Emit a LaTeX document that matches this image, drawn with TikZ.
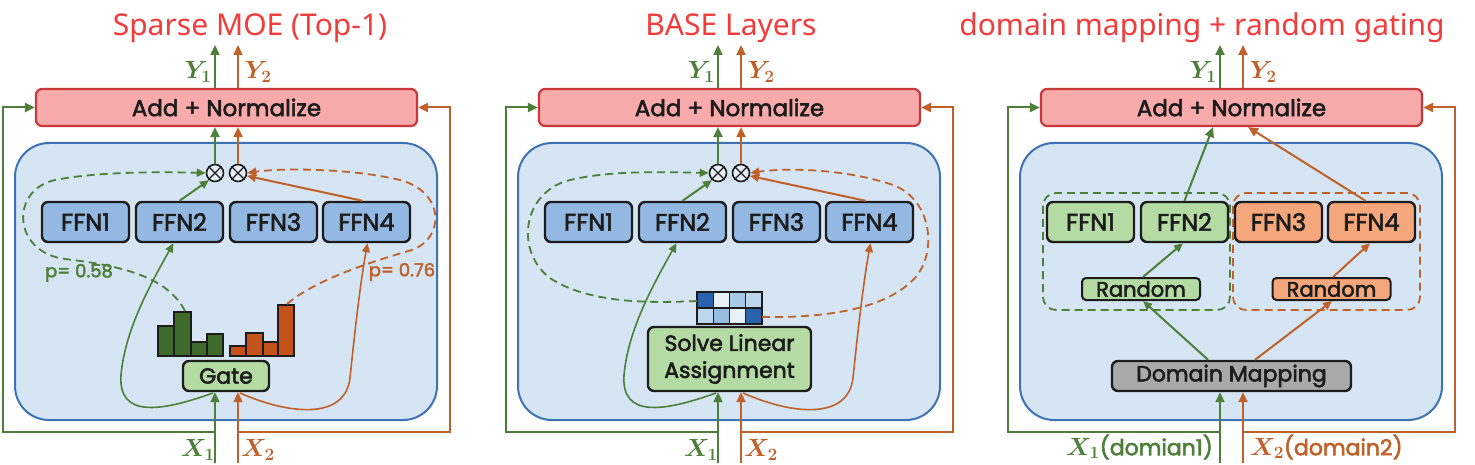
\documentclass[tikz,border=0pt]{standalone}
\usepackage{fontspec}
\newfontfamily\diagf{Poppins}[FakeBold=2.5]
\newfontfamily\titlef{Noto Sans}
\usetikzlibrary{arrows.meta,calc}
\definecolor{cgreen}{HTML}{4E7F3A}
\definecolor{corange}{HTML}{C0602A}
\definecolor{cbarg}{HTML}{3F6B2A}
\definecolor{cbaro}{HTML}{C4521A}
\definecolor{cpink}{HTML}{F9AAAA}
\definecolor{cred}{HTML}{C8383C}
\definecolor{cbg}{HTML}{D6E5F3}
\definecolor{cbgline}{HTML}{3D72B4}
\definecolor{cffn}{HTML}{93B9E2}
\definecolor{cgfill}{HTML}{B5DBA4}
\definecolor{cofill}{HTML}{F4A77A}
\definecolor{cgray}{HTML}{A9A9A9}
\definecolor{cdark}{HTML}{1C1C1C}
\definecolor{ctitle}{HTML}{F23B3B}
\definecolor{cgdk}{HTML}{2A62AE}
\definecolor{cgwh}{HTML}{E8F0F8}
\definecolor{cglt}{HTML}{A8C8E8}
\definecolor{cglt2}{HTML}{BCD6EE}
\definecolor{cgmd}{HTML}{96BCE2}
\tikzset{
  arr/.style={-{Triangle[length=10pt,width=9pt]}},
  sarr/.style={-{Triangle[length=9pt,width=8pt]}},
  gl/.style={draw=cgreen, line width=2pt},
  ol/.style={draw=corange, line width=2pt},
  gc/.style={draw=cgreen, line width=1.6pt},
  oc/.style={draw=corange, line width=1.6pt},
  gd/.style={draw=cgreen, line width=1.8pt, dash pattern=on 8pt off 5pt},
  od/.style={draw=corange, line width=1.8pt, dash pattern=on 8pt off 5pt},
  box/.style={draw=cdark, line width=2.4pt, rounded corners=6pt, inner sep=0pt,
    font=\diagf\fontsize{24}{28}\selectfont, text=cdark},
  ffnb/.style={box, fill=cffn, minimum width=87pt, minimum height=40pt},
  ffng/.style={box, fill=cgfill, minimum width=87pt, minimum height=40pt},
  ffno/.style={box, fill=cofill, minimum width=87pt, minimum height=40pt},
  addbox/.style={draw=cred, line width=2.2pt, fill=cpink, rounded corners=6pt,
    minimum width=381pt, minimum height=37pt, inner sep=0pt,
    font=\diagf\fontsize{23}{27}\selectfont, text=cdark},
  bgbox/.style={draw=cbgline, line width=2pt, fill=cbg, rounded corners=34pt},
  circ/.style={circle, draw=cdark, line width=1.6pt, fill=white!40!cbg,
    minimum size=17pt, inner sep=0pt},
  lab/.style={font=\fontsize{27}{30}\selectfont\boldmath, inner sep=0pt},
  plab/.style={font=\diagf\fontsize{18}{20}\selectfont, inner sep=0pt},
  ttl/.style={font=\titlef\fontsize{30}{35}\selectfont, text=ctitle, inner sep=0pt},
  barg/.style={draw=cdark, line width=1.4pt, fill=cbarg},
  baro/.style={draw=cdark, line width=1.4pt, fill=cbaro},
  cell/.style={draw=cdark, line width=1.4pt},
  grpg/.style={gd, rounded corners=13pt},
  grpo/.style={od, rounded corners=13pt},
}
\newcommand\panelframe[2]{%
  \node[addbox] (add) at (226.5,107.5) {Add + Normalize};
  \draw[bgbox] (15,143) rectangle (437,420);
  \node[#1] (f1) at (85.5,222) {FFN1};
  \node[#1] (f2) at (179.5,222) {FFN2};
  \node[#2] (f3) at (273.5,222) {FFN3};
  \node[#2] (f4) at (366.5,222) {FFN4};
  \coordinate (y1top) at (215,45);
  \coordinate (y2top) at (238,45);
  \draw[gl,arr] (y1top |- add.north) -- (y1top);
  \draw[ol,arr] (y2top |- add.north) -- (y2top);
  \node[lab, text=cgreen] (ly1) at (198,72) {$Y_1$};
  \node[lab, text=corange] (ly2) at (258,72) {$Y_2$};
  \coordinate (x1in) at (215,463);
  \coordinate (x2in) at (238,463);
  \coordinate (j1) at (215,432);
  \coordinate (j2) at (238,432);
  \coordinate (sl) at (3,432);
  \coordinate (sr) at (450,432);
  \draw[gl,arr] (j1) -- (sl) |- (add.west);
  \draw[ol,arr] (j2) -- (sr) |- (add.east);
}
\newcommand\otimespair{%
  \node[circ] (o1) at (215,173) {};
  \node[circ] (o2) at (238,173) {};
  \draw[cdark, line width=1.3pt] (o1.45) -- (o1.225) (o1.135) -- (o1.-45);
  \draw[cdark, line width=1.3pt] (o2.45) -- (o2.225) (o2.135) -- (o2.-45);
  \draw[gl,arr] (o1.north) -- (o1.north |- add.south);
  \draw[ol,arr] (o2.north) -- (o2.north |- add.south);
  \draw[gl,sarr] (f2.north) -- (o1.-130);
  \draw[ol,sarr] ([xshift=-4pt]f4.north) -- (o2.-18);
}
\begin{document}
\begin{tikzpicture}[x=1pt,y=-1pt]
\useasboundingbox (0,0) rectangle (1475,465);
\fill[white] (0,0) rectangle (1475,465);
% titles
\node[ttl] (t1) at (250,28) {Sparse MOE (Top-1)};
\node[ttl] (t2) at (731,28) {BASE Layers};
\node[ttl] (t3) at (1202,28) {domain mapping + random gating};
% ---------------- panel 1
\begin{scope}[name prefix=a-]
\panelframe{ffnb}{ffnb}
\otimespair
\node[box, fill=cgfill, minimum width=86pt, minimum height=30pt,
  font=\diagf\fontsize{22}{24}\selectfont] (gate) at (226,376) {Gate};
\draw[gl,arr] (x1in) -- (x1in |- gate.south);
\draw[ol,arr] (x2in) -- (x2in |- gate.south);
\foreach \a/\b/\t in {158/174/326,174/191/312,191/207/342,207/223/334}
  \draw[barg] (\a,356) rectangle (\b,\t);
\foreach \a/\b/\t in {230/246/346,246/263/333,263/278/342,278/294/305}
  \draw[baro] (\a,356) rectangle (\b,\t);
\coordinate (bg) at (185,311);
\coordinate (bo) at (287,304);
\coordinate (cg) at (213,393);
\coordinate (co) at (240,393);
\draw[gc,sarr] (cg) .. controls (160,412) and (118,418) .. (121,375)
  .. controls (125,330) and (150,285) .. ([xshift=-6pt]f2.south);
\draw[oc,sarr] (co) .. controls (290,415) and (345,420) .. (350,378)
  .. controls (355,330) and (360,285) .. ([xshift=1pt]f4.south);
\draw[gd,sarr] (bg) .. controls (168,278) and (125,266) .. (65,259)
  .. controls (12,252) and (10,190) .. (55,180)
  .. controls (100,171) and (170,172) .. (o1.west);
\draw[od,sarr] (bo) .. controls (315,280) and (370,262) .. (412,250)
  .. controls (445,238) and (445,192) .. (400,180)
  .. controls (350,168) and (280,168) .. (o2.east);
\node[plab, text=cgreen] (p1) at (79,273) {p= 0.58};
\node[plab, text=corange] (p2) at (402,272) {p= 0.76};
\node[lab, text=cgreen] (lx1) at (198,450) {$X_1$};
\node[lab, text=corange] (lx2) at (258,450) {$X_2$};
\end{scope}
% ---------------- panel 2
\begin{scope}[xshift=503pt, name prefix=b-]
\panelframe{ffnb}{ffnb}
\otimespair
\node[box, fill=cgfill, minimum width=163pt, minimum height=64pt, align=center,
  font=\diagf\fontsize{22}{27}\selectfont] (sla) at (226.5,359) {Solve Linear\\Assignment};
\draw[gl,arr] (x1in) -- (x1in |- sla.south);
\draw[ol,arr] (x2in) -- (x2in |- sla.south);
\foreach \c [count=\i from 0] in {cgdk,cgwh,cglt,cglt2}
  \draw[cell, fill=\c] (194+\i*16.25,292) rectangle (194+\i*16.25+16.25,308);
\foreach \c [count=\i from 0] in {cglt2,cgmd,cgwh,cgdk}
  \draw[cell, fill=\c] (194+\i*16.25,308) rectangle (194+\i*16.25+16.25,324);
\coordinate (gl) at (194,301);
\coordinate (gr) at (259,317);
\coordinate (cg) at (213,393);
\coordinate (co) at (240,393);
\draw[gc,sarr] (cg) .. controls (160,412) and (118,418) .. (121,375)
  .. controls (125,330) and (150,285) .. ([xshift=-6pt]f2.south);
\draw[oc,sarr] (co) .. controls (290,415) and (345,420) .. (350,378)
  .. controls (355,330) and (360,285) .. ([xshift=1pt]f4.south);
\draw[gd,sarr] (gl) .. controls (150,303) and (90,304) .. (50,280)
  .. controls (15,258) and (15,200) .. (60,182)
  .. controls (100,170) and (160,172) .. (o1.west);
\draw[od,sarr] (gr) .. controls (320,318) and (380,310) .. (410,280)
  .. controls (435,255) and (430,200) .. (390,185)
  .. controls (340,168) and (280,168) .. (o2.east);
\node[lab, text=cgreen] (lx1) at (198,450) {$X_1$};
\node[lab, text=corange] (lx2) at (258,450) {$X_2$};
\end{scope}
% ---------------- panel 3
\begin{scope}[xshift=1005pt, name prefix=c-]
\panelframe{ffng}{ffno}
\draw[grpg] (38,193) rectangle (225,310);
\draw[grpo] (228,193) rectangle (415,310);
\node[box, fill=cgfill, line width=2pt, rounded corners=4pt, minimum width=118pt, minimum height=22pt,
  font=\diagf\fontsize{21}{22}\selectfont] (r1) at (136,289) {Random};
\node[box, fill=cofill, line width=2pt, rounded corners=4pt, minimum width=118pt, minimum height=22pt,
  font=\diagf\fontsize{21}{22}\selectfont] (r2) at (326.5,289) {Random};
\node[box, fill=cgray, minimum width=239pt, minimum height=30pt,
  font=\diagf\fontsize{22}{24}\selectfont] (dm) at (226.5,376) {Domain Mapping};
\draw[gl,arr] (x1in) -- (x1in |- dm.south);
\draw[ol,arr] (x2in) -- (x2in |- dm.south);
\draw[gl,sarr] ([xshift=-23.5pt]dm.north) -- ([xshift=2pt]r1.south);
\draw[ol,sarr] ([xshift=23.5pt]dm.north) -- ([xshift=0.5pt]r2.south);
\draw[gl,sarr] ([xshift=2pt]r1.north) -- ([xshift=-1.5pt]f2.south);
\draw[ol,sarr] ([xshift=1.5pt]r2.north) -- ([xshift=-1.5pt]f4.south);
\draw[gl,arr] (f2.north) -- ([xshift=-18.5pt]add.south);
\draw[ol,arr] ([xshift=-6pt]f4.north) -- ([xshift=16.5pt]add.south);
\node[lab, text=cgreen, anchor=east] (lx1) at (208,447) {$X_1$\diagf\fontsize{22}{26}\selectfont(domian1)};
\node[lab, text=corange, anchor=west] (lx2) at (245,447) {$X_2$\diagf\fontsize{22}{26}\selectfont(domain2)};
\end{scope}
\end{tikzpicture}
\end{document}
